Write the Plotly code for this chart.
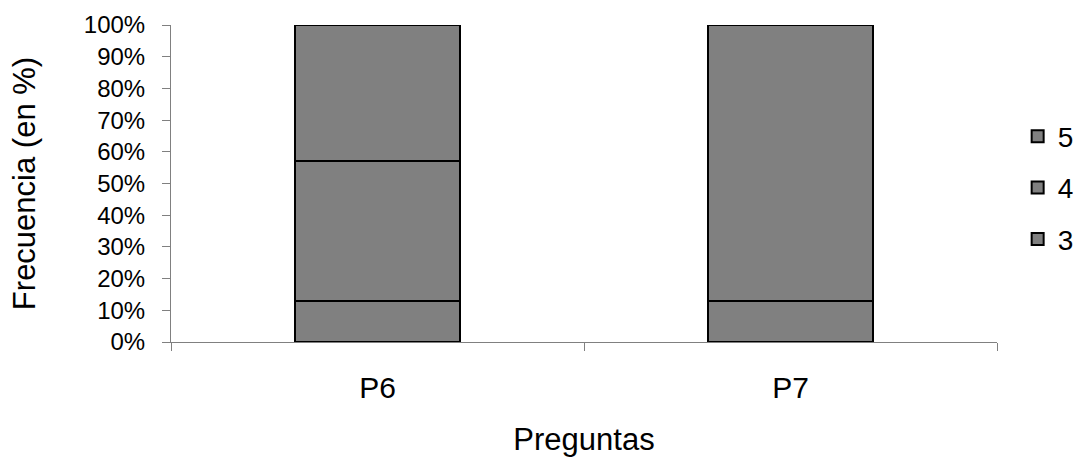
import plotly.graph_objects as go

categories = ["P6", "P7"]
series_names = ["3", "4", "5"]
values_3 = [13, 13]
values_4 = [44, 0]
values_5 = [43, 87]
y_ticks = [0, 10, 20, 30, 40, 50, 60, 70, 80, 90, 100]
y_tick_labels = [f"{v}%" for v in y_ticks]

fig = go.Figure()
for rank, (name, vals) in enumerate(zip(series_names, [values_3, values_4, values_5])):
    fig.add_trace(go.Bar(
        x=categories, y=vals, name=name, legendgroup=name, legendrank=10 - rank,
        marker=dict(color="#808080", line=dict(color="#000000", width=2)),
    ))

font_family = "Liberation Sans, Arial, sans-serif"
fig.update_layout(
    barmode="stack",
    bargap=0.6,
    width=1078, height=457,
    margin=dict(l=171, r=81, t=25, b=115, autoexpand=False),
    paper_bgcolor="white", plot_bgcolor="white",
    font=dict(family=font_family, color="black", size=25),
    showlegend=True,
    legend=dict(traceorder="grouped", x=1.025, y=0.486, yanchor="middle", xanchor="left",
                font=dict(size=28), itemwidth=30, tracegroupgap=12),
    xaxis=dict(
        title=dict(text="Preguntas", font=dict(size=31), standoff=31),
        showline=True, linecolor="#808080", linewidth=1,
        ticks="outside", tickson="boundaries", ticklen=8, tickcolor="#808080",
        showgrid=False, tickfont=dict(size=30), automargin=False,
        ticklabelstandoff=19,
    ),
    yaxis=dict(
        title=dict(text="Frecuencia (en %)", font=dict(size=31), standoff=38),
        range=[0, 100], tickvals=y_ticks, ticktext=y_tick_labels,
        showline=True, linecolor="#808080", linewidth=1,
        ticks="outside", ticklen=8, tickcolor="#808080",
        showgrid=False, zeroline=False, tickfont=dict(size=24),
        ticklabelstandoff=12, automargin=False,
    ),
)

fig.write_html("out.html", config={"displayModeBar": False},
               post_script="document.body.style.margin='0';")
